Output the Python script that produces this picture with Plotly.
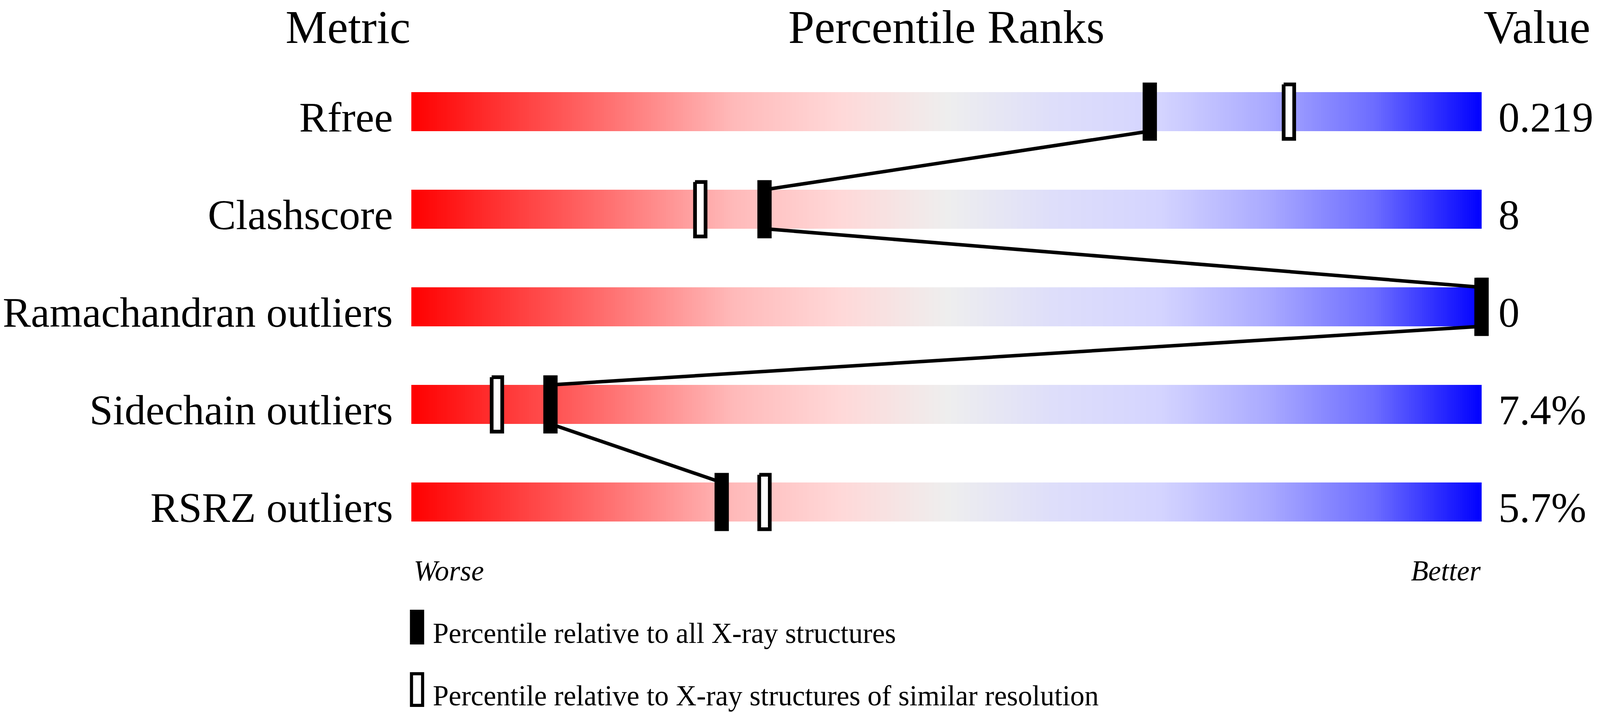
import numpy as np
import plotly.graph_objects as go

# ---- data ----
metrics = ["Rfree", "Clashscore", "Ramachandran outliers", "Sidechain outliers", "RSRZ outliers"]
values = ["0.219", "8", "0", "7.4%", "5.7%"]
pct_all = [69, 33, 100, 13, 29]      # percentile relative to all X-ray structures
pct_res = [82, 27, 100, 8, 33]       # percentile relative to X-ray structures of similar resolution
headers = ["Metric", "Percentile Ranks", "Value"]
ends = ["Worse", "Better"]
legend_texts = ["Percentile relative to all X-ray structures",
                "Percentile relative to X-ray structures of similar resolution"]

# ---- layout geometry (viewport is 4096 x 1824; reference 4485 x 1824) ----
FONT = "Liberation Serif, Times New Roman, serif"
W, H = 4096, 1824
SX = W / 4485.0
BAR_LEFT_PX = 1153 * SX
PX_PER_PCT = 30.0 * SX
ROW0_PX, ROW_STEP_PX = 286, 250.0
BAR_HALF = 0.2
MK_HALF_H, MK_HALF_W = 0.298, 0.667
HOL_HALF_H, HOL_HALF_W = 0.279, 0.493

gradient = [
    [0.00, "rgb(255,0,0)"],
    [0.10, "rgb(255,62,62)"],
    [0.20, "rgb(255,122,122)"],
    [0.30, "rgb(255,185,185)"],
    [0.40, "rgb(255,216,216)"],
    [0.50, "rgb(238,238,238)"],
    [0.60, "rgb(222,222,250)"],
    [0.70, "rgb(212,212,255)"],
    [0.80, "rgb(170,170,255)"],
    [0.90, "rgb(108,108,255)"],
    [1.00, "rgb(0,0,255)"],
]

fig = go.Figure()

# gradient bars
xe = np.linspace(0, 100, 501)
xm = (xe[:-1] + xe[1:]) / 2
for i, m in enumerate(metrics):
    fig.add_trace(go.Heatmap(
        x=xe, y=[i - BAR_HALF, i + BAR_HALF], z=[xm],
        colorscale=gradient, zmin=0, zmax=100, showscale=False,
        hoverinfo="skip"))

# connector line between "all X-ray" markers
lx, ly = [], []
for i in range(len(metrics) - 1):
    lx += [pct_all[i], pct_all[i + 1], None]
    ly += [i + BAR_HALF, i + 1 - BAR_HALF, None]
fig.add_trace(go.Scatter(x=lx, y=ly, mode="lines",
                         line=dict(color="black", width=9), hoverinfo="skip"))

def rect_path(xs, hw, hh):
    px, py = [], []
    for i, x in enumerate(xs):
        px += [x - hw, x + hw, x + hw, x - hw, x - hw, None]
        py += [i - hh, i - hh, i + hh, i + hh, i - hh, None]
    return px, py

hx, hy = rect_path(pct_res, HOL_HALF_W, HOL_HALF_H)
fig.add_trace(go.Scatter(x=hx, y=hy, mode="lines", fill="toself",
                         fillcolor="white", line=dict(color="black", width=9.5),
                         hoverinfo="skip"))
bx, by = rect_path(pct_all, MK_HALF_W, MK_HALF_H)
fig.add_trace(go.Scatter(x=bx, y=by, mode="lines", fill="toself",
                         fillcolor="black", line=dict(color="black", width=0),
                         hoverinfo="skip"))

ann = []
# headers
hy_ = -0.866
ann.append(dict(x=0, y=hy_, text=headers[0], xanchor="right", font=dict(size=120)))
ann.append(dict(x=50, y=hy_, text=headers[1], xanchor="center", font=dict(size=120)))
ann.append(dict(x=100.1, y=hy_, text=headers[2], xanchor="left", font=dict(size=120)))
# row labels & values
for i, (m, v) in enumerate(zip(metrics, values)):
    ann.append(dict(x=-1.66, y=i + 0.058, text=m, xanchor="right", font=dict(size=108)))
    ann.append(dict(x=101.5, y=i + 0.058, text=v, xanchor="left", font=dict(size=108)))
# worse / better
ann.append(dict(x=0.15, y=4.704, text="<i>%s</i>" % ends[0], xanchor="left", font=dict(size=73)))
ann.append(dict(x=100, y=4.704, text="<i>%s</i>" % ends[1], xanchor="right", font=dict(size=73)))
# legend texts
ann.append(dict(x=1.93, y=5.344, text=legend_texts[0], xanchor="left", font=dict(size=73)))
ann.append(dict(x=1.93, y=5.984, text=legend_texts[1], xanchor="left", font=dict(size=73)))
for a in ann:
    a.update(xref="x", yref="y", yanchor="middle", showarrow=False)
    a["font"].update(family=FONT, color="black")

shapes = [
    dict(type="rect", xref="x", yref="y", x0=-0.13, x1=1.2, y0=5.104, y1=5.46,
         fillcolor="black", line=dict(width=0)),
    dict(type="rect", xref="x", yref="y", x0=0.016, x1=1.054, y0=5.76, y1=6.084,
         fillcolor="white", line=dict(color="black", width=8)),
]

x_lo = -BAR_LEFT_PX / PX_PER_PCT
x_hi = (W - BAR_LEFT_PX) / PX_PER_PCT
y_top = -ROW0_PX / ROW_STEP_PX
y_bot = (H - ROW0_PX) / ROW_STEP_PX

fig.update_layout(
    width=W, height=H, margin=dict(l=0, r=0, t=0, b=0),
    paper_bgcolor="white", plot_bgcolor="white", showlegend=False,
    xaxis=dict(range=[x_lo, x_hi], visible=False, fixedrange=True),
    yaxis=dict(range=[y_bot, y_top], visible=False, fixedrange=True),
    annotations=ann, shapes=shapes, font=dict(family=FONT),
)

fig.write_html("out.html", config={"displayModeBar": False},
               post_script="document.body.style.margin='0';document.body.style.overflow='hidden';")
